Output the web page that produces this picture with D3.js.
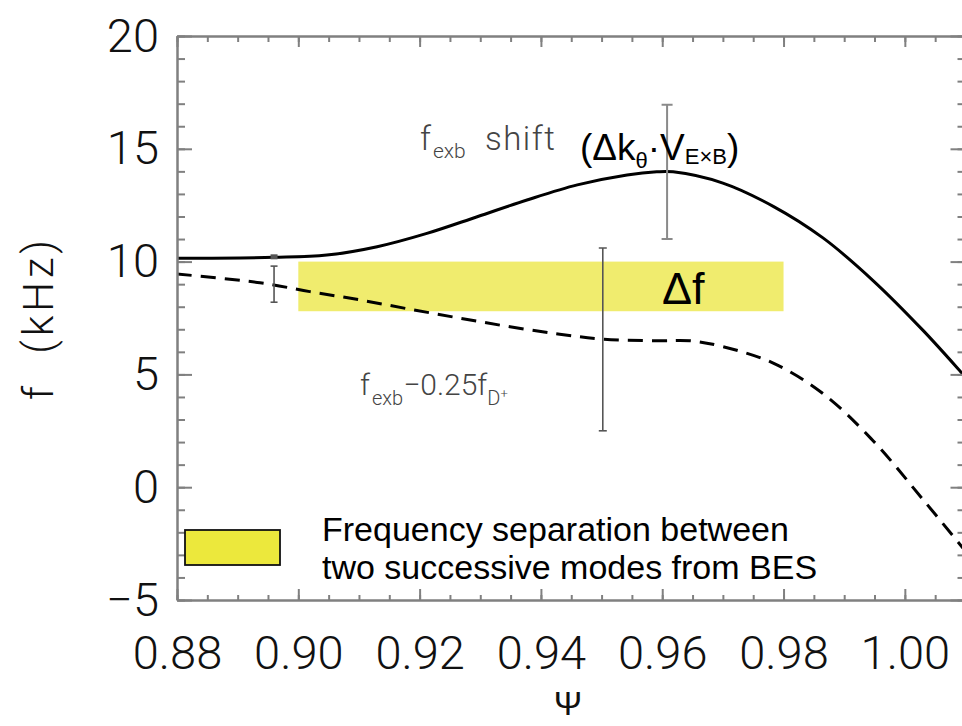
<!DOCTYPE html>
<html>
<head>
<meta charset="utf-8">
<script src="https://cdn.jsdelivr.net/npm/d3@7"></script>
<style>
  html, body { margin: 0; padding: 0; background: #ffffff; }
  svg { display: block; }
  text { font-family: "Liberation Sans", Arial, Helvetica, sans-serif; }
  .thin { font-family: Roboto, "Liberation Sans", Arial, sans-serif; font-weight: 300; }
</style>
</head>
<body>
<svg id="chart" width="962" height="726"></svg>
<script>
// ---- data -------------------------------------------------------------
// E×B frequency shift (solid curve), f in kHz versus normalised flux Ψ
const shiftPsi = [0.880, 0.8960, 0.9047, 0.9130, 0.9212, 0.9295, 0.9377, 0.9460, 0.9542, 0.9591, 0.9618, 0.9700, 0.9783, 0.9865, 0.9948, 1.0030, 1.0094, 1.0100];
const shiftF   = [10.15, 10.19, 10.29, 10.66, 11.25, 11.99, 12.73, 13.40, 13.84, 13.98, 13.98, 13.48, 12.45, 11.05, 9.15, 6.95, 5.06, 4.88];

// f_exb − 0.25 f_D+ (dashed curve)
const diffPsi = [0.880, 0.8937, 0.9019, 0.9102, 0.9184, 0.9267, 0.9349, 0.9431, 0.9504, 0.9591, 0.9646, 0.9700, 0.9783, 0.9865, 0.9948, 1.0030, 1.0094, 1.0100];
const diffF   = [9.45, 9.06, 8.67, 8.30, 7.89, 7.49, 7.11, 6.78, 6.56, 6.49, 6.49, 6.23, 5.50, 4.15, 2.05, -0.55, -2.64, -2.84];

// error bars
const errPsi = [0.8960, 0.9502, 0.9608];
const errLo  = [8.2, 2.5, 11.0];
const errHi  = [9.8, 10.6, 16.95];

// measured frequency separation band (BES)
const bandPsi = [0.90, 0.98];
const bandF   = [7.8, 10.0];

// axis ticks
const xTicks = [0.88, 0.90, 0.92, 0.94, 0.96, 0.98, 1.00];
const xTickLabels = ["0.88", "0.90", "0.92", "0.94", "0.96", "0.98", "1.00"];
const yTicks = [-5, 0, 5, 10, 15, 20];
const yTickLabels = ["\u22125", "0", "5", "10", "15", "20"];

// ---- layout -----------------------------------------------------------
const svg = d3.select("#chart");
const L = 177, R = 965.5, T = 36, B = 600;
const x = d3.scaleLinear().domain([0.88, 1.01]).range([L, R]);
const y = d3.scaleLinear().domain([-5, 20]).range([B, T]);

svg.append("rect").attr("width", 962).attr("height", 726).attr("fill", "#fff");

svg.append("defs").append("clipPath").attr("id", "plotClip")
  .append("rect").attr("x", L).attr("y", T).attr("width", R - L).attr("height", B - T);

const plot = svg.append("g").attr("clip-path", "url(#plotClip)");

// Δf band
plot.append("rect")
  .attr("x", x(bandPsi[0])).attr("width", x(bandPsi[1]) - x(bandPsi[0]))
  .attr("y", y(bandF[1])).attr("height", y(bandF[0]) - y(bandF[1]))
  .attr("fill", "#f0ec6e");

const line = d3.line().curve(d3.curveCatmullRom.alpha(0.5));

plot.append("path")
  .attr("d", line(diffPsi.map((p, i) => [x(p), y(diffF[i])])))
  .attr("fill", "none").attr("stroke", "#000").attr("stroke-width", 3)
  .attr("stroke-dasharray", "15,9");

plot.append("path")
  .attr("d", line(shiftPsi.map((p, i) => [x(p), y(shiftF[i])])))
  .attr("fill", "none").attr("stroke", "#000").attr("stroke-width", 3);

// error bars
const errColor = ["#555", "#555", "#8a8a8a"];
const errWidth = [1.6, 1.6, 2];
const errCap = [7, 8, 11];
errPsi.forEach((p, i) => {
  const g = plot.append("g").attr("stroke", errColor[i]).attr("stroke-width", errWidth[i]);
  const cx = x(p);
  g.append("line").attr("x1", cx).attr("x2", cx).attr("y1", y(errLo[i])).attr("y2", y(errHi[i]));
  [errLo[i], errHi[i]].forEach(v => {
    g.append("line").attr("x1", cx - errCap[i] / 2).attr("x2", cx + errCap[i] / 2)
      .attr("y1", y(v)).attr("y2", y(v));
  });
});
// small marker where the first bar meets the solid curve
plot.append("rect")
  .attr("x", x(errPsi[0]) - 3.5).attr("y", y(10.19) - 3).attr("width", 7).attr("height", 5)
  .attr("fill", "#555");

// ---- axes -------------------------------------------------------------
const axisColor = "#808080";
const minorX = d3.range(0.88, 1.0101, 0.005).map(v => +v.toFixed(3));
const minorY = d3.range(-5, 20.01, 1);

function styleAxis(g) {
  g.select(".domain").attr("stroke", axisColor).attr("stroke-width", 2);
  g.selectAll(".tick line").attr("stroke", axisColor).attr("stroke-width", 2);
  g.selectAll("text").attr("class", "thin").attr("fill", "#111").attr("font-size", 47)
    .attr("font-family", null);
}

// bottom: minor then major with labels
svg.append("g").attr("transform", `translate(0,${B})`)
  .call(d3.axisBottom(x).tickValues(minorX).tickSize(-5).tickSizeOuter(0).tickFormat(""))
  .call(styleAxis);
svg.append("g").attr("transform", `translate(0,${B})`)
  .call(d3.axisBottom(x).tickValues(xTicks).tickSize(-11).tickSizeOuter(0).tickPadding(36)
    .tickFormat((d, i) => xTickLabels[i]))
  .call(styleAxis);

// top
svg.append("g").attr("transform", `translate(0,${T})`)
  .call(d3.axisTop(x).tickValues(minorX).tickSize(-6).tickSizeOuter(0).tickFormat(""))
  .call(styleAxis);
svg.append("g").attr("transform", `translate(0,${T})`)
  .call(d3.axisTop(x).tickValues(xTicks).tickSize(-11).tickSizeOuter(0).tickFormat(""))
  .call(styleAxis);

// left
svg.append("g").attr("transform", `translate(${L},0)`)
  .call(d3.axisLeft(y).tickValues(minorY).tickSize(-8).tickSizeOuter(0).tickFormat(""))
  .call(styleAxis);
svg.append("g").attr("transform", `translate(${L},0)`)
  .call(d3.axisLeft(y).tickValues(yTicks).tickSize(-15).tickSizeOuter(0).tickPadding(18)
    .tickFormat((d, i) => yTickLabels[i]))
  .call(styleAxis);

// right
svg.append("g").attr("transform", `translate(${R},0)`)
  .call(d3.axisRight(y).tickValues(minorY).tickSize(-8).tickSizeOuter(0).tickFormat(""))
  .call(styleAxis);
svg.append("g").attr("transform", `translate(${R},0)`)
  .call(d3.axisRight(y).tickValues(yTicks).tickSize(-15).tickSizeOuter(0).tickFormat(""))
  .call(styleAxis);

// axis titles
svg.append("text").attr("class", "thin")
  .attr("transform", "translate(53,320) rotate(-90)")
  .attr("text-anchor", "middle").attr("font-size", 42).attr("fill", "#111")
  .attr("textLength", 160).attr("lengthAdjust", "spacing")
  .style("white-space", "pre")
  .text("f  (kHz)");

svg.append("text")
  .attr("x", 568).attr("y", 715).attr("text-anchor", "middle")
  .attr("font-family", "'DejaVu Serif', 'Liberation Serif', serif")
  .attr("font-size", 34).attr("fill", "#111")
  .text("\u03a8");

// ---- annotations ------------------------------------------------------
const grey = "#444";
const t1 = svg.append("text").attr("class", "thin").attr("x", 420).attr("y", 150).attr("fill", grey).attr("font-size", 33);
t1.append("tspan").text("f");
t1.append("tspan").attr("font-size", 21).attr("dx", 2).attr("dy", 8).text("exb");
t1.append("tspan").attr("x", 485).attr("dy", -8).attr("letter-spacing", 1.5).text("shift");

const t2 = svg.append("text").attr("x", 580).attr("y", 160).attr("fill", "#000").attr("font-size", 37);
t2.append("tspan").text("(\u0394k");
t2.append("tspan").attr("font-size", 22).attr("dy", 8).text("\u03b8");
t2.append("tspan").attr("dy", -8).text("\u00b7V");
t2.append("tspan").attr("font-size", 22).attr("dy", 4).text("E\u00d7B");
t2.append("tspan").attr("dy", -4).text(")");

svg.append("text").attr("x", 662).attr("y", 304).attr("fill", "#000").attr("font-size", 45)
  .text("\u0394f");

const t3 = svg.append("text").attr("class", "thin").attr("x", 360).attr("y", 395).attr("fill", grey).attr("font-size", 30);
t3.append("tspan").text("f");
t3.append("tspan").attr("font-size", 20).attr("dx", 2).attr("dy", 10).text("exb");
t3.append("tspan").attr("dy", -10).text("\u22120.25f");
t3.append("tspan").attr("font-size", 20).attr("dy", 10).text("D");
t3.append("tspan").attr("font-size", 13).attr("dy", -7).text("+");

// ---- legend -----------------------------------------------------------
svg.append("rect").attr("x", 185).attr("y", 530).attr("width", 95).attr("height", 35)
  .attr("fill", "#ece83c").attr("stroke", "#111").attr("stroke-width", 1.8);
const legendLines = ["Frequency separation between", "two successive modes from BES"];
svg.selectAll(".legendText").data(legendLines).enter().append("text")
  .attr("class", "legendText")
  .attr("x", 322).attr("y", (d, i) => 541 + i * 38)
  .attr("font-size", 34).attr("fill", "#000")
  .text(d => d);
</script>
</body>
</html>
